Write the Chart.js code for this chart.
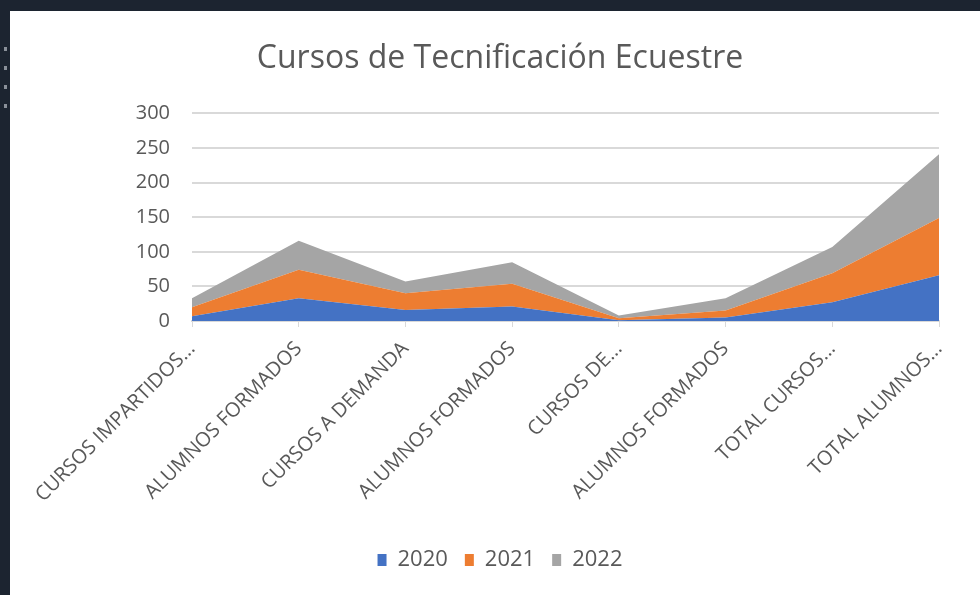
<!DOCTYPE html>
<html>
<head>
<meta charset="utf-8">
<script src="https://cdn.jsdelivr.net/npm/chart.js@4"></script>
<style>
  html, body { margin: 0; padding: 0; }
  body { width: 980px; height: 595px; background: #1c2430; position: relative; overflow: hidden; }
  #panel { position: absolute; left: 10px; top: 11px; width: 970px; height: 584px; background: #fff; }
  .dot { position: absolute; left: 4px; width: 3px; height: 4px; background: #8a9099; }
</style>
</head>
<body>
<div class="dot" style="top:47px"></div>
<div class="dot" style="top:66px"></div>
<div class="dot" style="top:85px"></div>
<div class="dot" style="top:104px"></div>
<div id="panel"><canvas id="chart" width="970" height="584"></canvas></div>
<script>
const categories = [
  'CURSOS IMPARTIDOS...',
  'ALUMNOS FORMADOS',
  'CURSOS A DEMANDA',
  'ALUMNOS FORMADOS',
  'CURSOS DE...',
  'ALUMNOS FORMADOS',
  'TOTAL CURSOS...',
  'TOTAL ALUMNOS...'
]
const years = ['2020', '2021', '2022']
const values2020 = [7, 33, 16, 21, 1, 5, 27, 66]
const values2021 = [13, 41, 24, 33, 3, 10, 42, 83]
const values2022 = [13, 42, 17, 31, 4, 18, 38, 92]
const colors = ['#4472c4', '#ed7d31', '#a5a5a5']

const textColor = '#595959'
const gridColor = '#d9d9d9'
const font = '"Open Sans", "DejaVu Sans", sans-serif'

const series = [values2020, values2021, values2022]

const ctx = document.getElementById('chart').getContext('2d')
new Chart(ctx, {
  type: 'line',
  data: {
    labels: categories,
    datasets: series.map((vals, i) => ({
      label: years[i],
      data: vals,
      backgroundColor: colors[i],
      borderColor: colors[i],
      borderWidth: 0,
      pointRadius: 0,
      tension: 0,
      fill: i === 0 ? 'origin' : '-1'
    }))
  },
  options: {
    responsive: false,
    animation: false,
    // left padding balances the right one so title and legend sit centred
    layout: { padding: { top: 0, left: 51, right: 41, bottom: 14 } },
    plugins: {
      tooltip: { enabled: false },
      title: {
        display: true,
        text: 'Cursos de Tecnificación Ecuestre',
        color: textColor,
        font: { family: font, size: 32, weight: 'normal' },
        padding: { top: 29, bottom: 35 }
      },
      legend: {
        position: 'bottom',
        labels: {
          color: textColor,
          font: { family: font, size: 22 },
          boxWidth: 9,
          boxHeight: 12,
          padding: 17
        }
      }
    },
    scales: {
      x: {
        offset: false,
        grid: { drawOnChartArea: false, drawTicks: true, tickLength: 6, color: gridColor },
        border: { display: true, color: gridColor, width: 2 },
        ticks: {
          color: textColor,
          font: { family: font, size: 20 },
          minRotation: 45,
          maxRotation: 45,
          autoSkip: false,
          padding: 10
        },
        afterFit(scale) { scale.height = 211 }
      },
      y: {
        stacked: true,
        min: 0,
        max: 300,
        grid: { color: gridColor, lineWidth: 2, drawTicks: false },
        border: { display: false },
        ticks: {
          stepSize: 50,
          color: textColor,
          font: { family: font, size: 20 },
          padding: 22
        },
        afterFit(scale) { scale.width = 131 }
      }
    }
  }
})
</script>
</body>
</html>
